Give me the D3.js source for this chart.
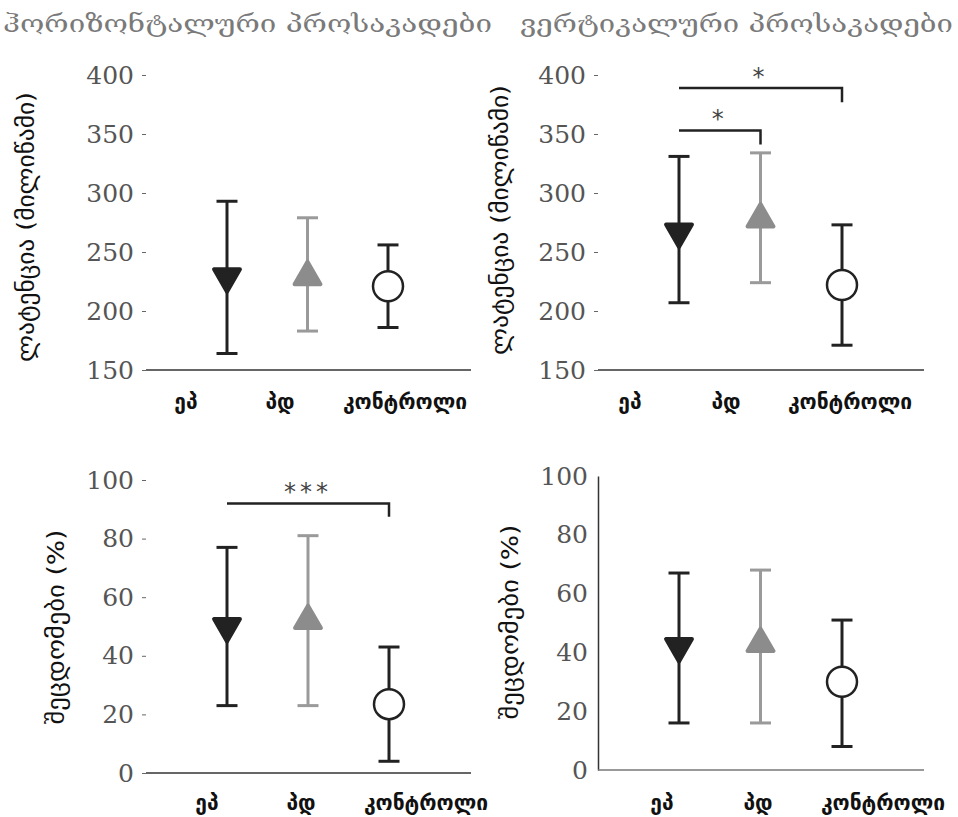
<!DOCTYPE html>
<html>
<head>
<meta charset="utf-8">
<script src="https://cdn.jsdelivr.net/npm/d3@7"></script>
<style>
  body { margin: 0; background: #fff; }
  svg { display: block; }
  .tick text { font-family: "DejaVu Serif", serif; fill: #555; }
</style>
</head>
<body>
<div id="chart"></div>
<script>
// categories and values
const groups = ["ეპ", "პდ", "კონტროლი"]
const titles = ["ჰორიზონტალური პროსაკადები", "ვერტიკალური პროსაკადები"]
const latencyLabel = "ლატენცია (მილიწამი)"
const errorLabel = "შეცდომები (%)"

const latencyTicks = [150, 200, 250, 300, 350, 400]
const errorTicks = [0, 20, 40, 60, 80, 100]

// horizontal latency
const hLatMean = [229, 229, 221]
const hLatLow = [164, 183, 186]
const hLatHigh = [293, 279, 256]
// vertical latency
const vLatMean = [267, 278, 222]
const vLatLow = [207, 224, 171]
const vLatHigh = [331, 334, 273]
// horizontal errors
const hErrMean = [50, 52, 23.5]
const hErrLow = [23, 23, 4]
const hErrHigh = [77, 81, 43]
// vertical errors
const vErrMean = [42, 43, 30]
const vErrLow = [16, 16, 8]
const vErrHigh = [67, 68, 51]

// significance brackets: [from group, to group, bar level, drop level, label]
const hErrSig = [[0, 2, 92, 87.5, "***"]]
const vLatSig = [[0, 2, 389, 377, "*"], [0, 1, 353, 341, "*"]]

const W = 958, H = 817
const svg = d3.select("#chart").append("svg").attr("width", W).attr("height", H)

const colors = ["#222222", "#9a9a9a", "#222222"]
const fills = ["#222222", "#8c8c8c", "#ffffff"]

svg.append("text")
  .attr("x", 3).attr("y", 32)
  .attr("textLength", 489).attr("lengthAdjust", "spacingAndGlyphs")
  .style("font-family", "DejaVu Serif, DejaVu Sans").style("font-size", "24px")
  .attr("fill", "#7a7a7a")
  .text(titles[0])
svg.append("text")
  .attr("x", 520).attr("y", 32)
  .attr("textLength", 433).attr("lengthAdjust", "spacingAndGlyphs")
  .style("font-family", "DejaVu Serif, DejaVu Sans").style("font-size", "24px")
  .attr("fill", "#7a7a7a")
  .text(titles[1])

function drawPanel(p) {
  const g = svg.append("g")

  const y = d3.scaleLinear().domain(p.domain).range([p.y0, p.y1])
  const x = d3.scalePoint().domain(groups).range(p.xr)

  const axis = d3.axisLeft(y).tickValues(p.ticks)
    .tickSize(p.yLine ? 0 : 4).tickPadding(p.yLine ? 10 : 8)
  const ax = g.append("g")
    .attr("transform", `translate(${p.ax},0)`)
    .call(axis)
  ax.selectAll(".tick text").style("font-size", "25px")
  ax.selectAll(".tick line").attr("stroke", "#666")
  if (p.yLine) {
    ax.select(".domain").attr("stroke", "#333").attr("stroke-width", 1.5)
  } else {
    ax.select(".domain").remove()
  }

  // baseline
  g.append("line")
    .attr("x1", p.ax).attr("x2", p.axEnd)
    .attr("y1", y(p.domain[0])).attr("y2", y(p.domain[0]))
    .attr("stroke", p.yLine ? "#777" : "#333").attr("stroke-width", 1.5)

  // axis title
  g.append("text")
    .attr("transform", `translate(${p.tx},${p.ty}) rotate(-90)`)
    .attr("text-anchor", "middle")
    .attr("textLength", p.tlen).attr("lengthAdjust", "spacingAndGlyphs")
    .style("font-family", "DejaVu Sans").style("font-size", "23px")
    .attr("fill", "#111")
    .text(p.title)

  // category labels
  g.selectAll("text.cat")
    .data(groups)
    .enter()
    .append("text")
      .attr("class", "cat")
      .attr("x", (d, i) => p.labelX[i])
      .attr("y", p.labelY)
      .attr("text-anchor", "middle")
      .style("font-family", "DejaVu Sans").style("font-size", "21px").style("font-weight", "bold")
      .attr("fill", "#111")
      .text(d => d)

  const rows = groups.map((d, i) => ({
    name: d, i: i, mean: p.mean[i], low: p.low[i], high: p.high[i]
  }))

  // error bars
  const eb = g.selectAll("g.eb").data(rows).enter().append("g")
  eb.append("line")
    .attr("x1", d => x(d.name)).attr("x2", d => x(d.name))
    .attr("y1", d => y(d.low)).attr("y2", d => y(d.high))
  eb.append("line")
    .attr("x1", d => x(d.name) - 10.5).attr("x2", d => x(d.name) + 10.5)
    .attr("y1", d => y(d.high)).attr("y2", d => y(d.high))
  eb.append("line")
    .attr("x1", d => x(d.name) - 10.5).attr("x2", d => x(d.name) + 10.5)
    .attr("y1", d => y(d.low)).attr("y2", d => y(d.low))
  eb.selectAll("line")
    .attr("stroke", function() { return colors[d3.select(this.parentNode).datum().i] })
    .attr("stroke-width", 3)

  // markers
  const tri = d3.symbol().type(d3.symbolTriangle).size(290)
  g.selectAll("path.mk")
    .data(rows.filter(d => d.i < 2))
    .enter()
    .append("path")
      .attr("d", tri)
      .attr("transform", d => `translate(${x(d.name)},${y(d.mean)}) rotate(${d.i == 0 ? 180 : 0})`)
      .attr("fill", d => fills[d.i])
      .attr("stroke", d => fills[d.i])
      .attr("stroke-width", 4)
      .attr("stroke-linejoin", "round")
  g.selectAll("circle.mk")
    .data(rows.filter(d => d.i == 2))
    .enter()
    .append("circle")
      .attr("cx", d => x(d.name)).attr("cy", d => y(d.mean))
      .attr("r", 15)
      .attr("fill", "#fff").attr("stroke", "#222").attr("stroke-width", 2.5)

  // significance
  p.sig.forEach(s => {
    const x1 = x(groups[s[0]]), x2 = x(groups[s[1]])
    g.append("path")
      .attr("d", `M${x1},${y(s[2])}H${x2}V${y(s[3])}`)
      .attr("fill", "none").attr("stroke", "#222").attr("stroke-width", 2.5)
    g.append("text")
      .attr("x", (x1 + x2) / 2).attr("y", y(s[2]) - 3)
      .attr("text-anchor", "middle")
      .style("font-family", "DejaVu Sans").style("font-size", "24px")
      .style("letter-spacing", "4px")
      .attr("fill", "#444")
      .text(s[4])
  })
}

drawPanel({
  domain: [150, 400], ticks: latencyTicks, y0: 370, y1: 75,
  ax: 146, axEnd: 471, xr: [227, 388], yLine: false,
  mean: hLatMean, low: hLatLow, high: hLatHigh, sig: [],
  title: latencyLabel, tx: 34, ty: 227, tlen: 270,
  labelX: [186, 280, 405], labelY: 409
})
drawPanel({
  domain: [150, 400], ticks: latencyTicks, y0: 370, y1: 75,
  ax: 598, axEnd: 924, xr: [679, 842], yLine: false,
  mean: vLatMean, low: vLatLow, high: vLatHigh, sig: vLatSig,
  title: latencyLabel, tx: 508, ty: 220, tlen: 270,
  labelX: [630, 726, 850], labelY: 409
})
drawPanel({
  domain: [0, 100], ticks: errorTicks, y0: 773, y1: 480,
  ax: 146, axEnd: 471, xr: [227, 389], yLine: false,
  mean: hErrMean, low: hErrLow, high: hErrHigh, sig: hErrSig,
  title: errorLabel, tx: 64, ty: 627, tlen: 195,
  labelX: [207, 301, 426], labelY: 810
})
drawPanel({
  domain: [0, 100], ticks: errorTicks, y0: 770, y1: 476,
  ax: 598, axEnd: 924, xr: [679, 842], yLine: true,
  mean: vErrMean, low: vErrLow, high: vErrHigh, sig: [],
  title: errorLabel, tx: 518, ty: 622, tlen: 195,
  labelX: [662, 758, 883], labelY: 810
})
</script>
</body>
</html>
